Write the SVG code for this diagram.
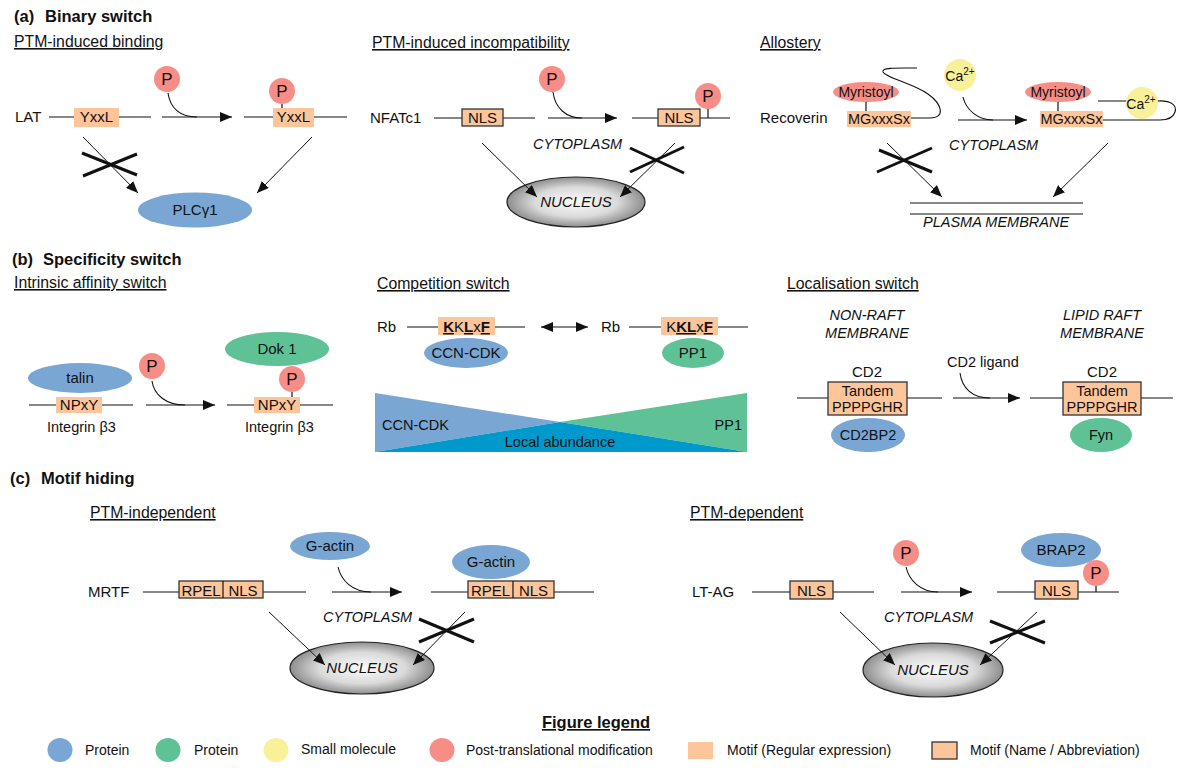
<svg xmlns="http://www.w3.org/2000/svg" width="1186" height="778" viewBox="0 0 1186 778">
<style>
text{font-family:"Liberation Sans",Arial,sans-serif;fill:#111;font-size:15px}
.c{text-anchor:middle}
.it{font-style:italic}
.sub{font-size:15.8px;text-decoration:underline}
.h{font-size:16.5px;font-weight:bold}
.sm{font-size:14.5px}
.lg{font-size:14px}
.pt{font-size:17px}
.b{font-weight:bold;text-decoration:underline}
.prot{fill:#79A6D3}
.grn{fill:#5FC196}
.ptm{fill:#F68E87}
.mol{fill:#F9F09A}
.motif{fill:#FEC59B}
.motifb{fill:#FEC59B;stroke:#333;stroke-width:1.3}
.ln{stroke:#111;stroke-width:1.2;fill:none}
.cv{stroke:#111;stroke-width:1.1;fill:none}
.arr{stroke:#111;stroke-width:1.2;fill:none;marker-end:url(#ah)}
.darr{stroke:#111;stroke-width:1;fill:none;marker-end:url(#ah)}
.cross{stroke:#111;stroke-width:3}
.nuc{fill:url(#ng);stroke:#222;stroke-width:1.2}
</style>
<defs>
<marker id="ah" markerUnits="userSpaceOnUse" markerWidth="12" markerHeight="10" viewBox="0 0 12 10" refX="12" refY="5" orient="auto-start-reverse"><path d="M0,0 L12,5 L0,10 z" fill="#111"/></marker>
<radialGradient id="ng" cx="50%" cy="50%" r="50%"><stop offset="0" stop-color="#fbfbfb"/><stop offset="0.6" stop-color="#dadada"/><stop offset="1" stop-color="#8e8e8e"/></radialGradient>
</defs>
<rect width="1186" height="778" fill="#fff"/>

<!-- headings -->
<g id="headings">
<text class="h" x="14" y="22">(a)<tspan x="45">Binary switch</tspan></text>
<text class="sub" x="14" y="47">PTM-induced binding</text>
<text class="sub" x="372" y="48">PTM-induced incompatibility</text>
<text class="sub" x="760" y="48">Allostery</text>
<text class="h" x="12" y="265">(b)<tspan x="43">Specificity switch</tspan></text>
<text class="sub" x="14" y="288">Intrinsic affinity switch</text>
<text class="sub" x="377" y="289">Competition switch</text>
<text class="sub" x="787" y="289">Localisation switch</text>
<text class="h" x="10" y="484">(c)<tspan x="41">Motif hiding</tspan></text>
<text class="sub" x="90" y="518">PTM-independent</text>
<text class="sub" x="690" y="518">PTM-dependent</text>
</g>

<!-- (a) PTM-induced binding -->
<g id="lat-unmodified">
<text x="15" y="122">LAT</text>
<line class="ln" x1="49" y1="117" x2="151" y2="117"/>
<rect class="motif" x="74" y="108" width="45" height="19"/>
<text class="c" x="96.5" y="122">YxxL</text>
</g>
<g id="p-a1"><circle class="ptm" cx="167" cy="79" r="13"/><text class="c pt" x="167" y="85">P</text></g>
<g id="lat-phospho">
<line class="ln" x1="244" y1="117" x2="347" y2="117"/>
<rect class="motif" x="273" y="108" width="41" height="19"/>
<text class="c" x="293.5" y="122">YxxL</text>
<line class="ln" x1="282" y1="104" x2="282" y2="108"/>
<circle class="ptm" cx="282" cy="91" r="13"/><text class="c pt" x="282" y="97">P</text>
</g>
<g id="plcg1"><ellipse class="prot" cx="195" cy="210" rx="57" ry="17.5"/><text class="c" x="195" y="215">PLCγ1</text></g>

<!-- (a) PTM-induced incompatibility -->
<g id="nfatc1-unmodified">
<text x="370" y="123">NFATc1</text>
<line class="ln" x1="434" y1="118" x2="535" y2="118"/>
<rect class="motifb" x="462" y="109" width="41" height="17"/>
<text class="c" x="482.5" y="123">NLS</text>
</g>
<g id="p-a2"><circle class="ptm" cx="552" cy="79" r="13"/><text class="c pt" x="552" y="85">P</text></g>
<g id="nfatc1-phospho">
<line class="ln" x1="632" y1="118" x2="730" y2="118"/>
<rect class="motifb" x="658" y="109" width="42" height="17"/>
<text class="c" x="679" y="123">NLS</text>
<line class="ln" x1="708" y1="109" x2="708" y2="118"/>
<circle class="ptm" cx="708" cy="96" r="13"/><text class="c pt" x="708" y="102">P</text>
</g>
<text class="it sm" x="533" y="149">CYTOPLASM</text>
<g id="nucleus-a"><ellipse class="nuc" cx="576" cy="202" rx="69" ry="25"/><text class="c it" x="576" y="207">NUCLEUS</text></g>

<!-- (a) Allostery -->
<g id="recoverin-off">
<text x="760" y="123">Recoverin</text>
<path class="cv" d="M911,118 L930,118 C946,118 942,104 928,94 C912,83 886,78 883,72 C881,67 900,68 917,68"/>
<ellipse class="ptm" cx="866" cy="92" rx="33" ry="10"/>
<text class="c lg" x="866" y="97">Myristoyl</text>
<line class="ln" x1="866" y1="102" x2="866" y2="111"/>
<rect class="motif" x="847" y="111" width="64" height="16"/>
<text class="c sm" x="879" y="124">MGxxxSx</text>
</g>
<g id="ca-free"><circle class="mol" cx="960" cy="75" r="16"/><text class="c lg" x="960" y="81">Ca<tspan font-size="10" dy="-6">2+</tspan></text></g>
<g id="recoverin-on">
<path class="cv" d="M1098,101 L1130,101 M1157,101 C1172,100 1177,106 1175,112 C1173,118 1168,120 1160,120 L1103,120"/>
<ellipse class="ptm" cx="1058" cy="92" rx="33" ry="10"/>
<text class="c lg" x="1058" y="97">Myristoyl</text>
<line class="ln" x1="1058" y1="102" x2="1058" y2="111"/>
<rect class="motif" x="1040" y="111" width="63" height="16"/>
<text class="c sm" x="1071.5" y="124">MGxxxSx</text>
<circle class="mol" cx="1142" cy="103" r="16"/><text class="c lg" x="1141" y="109">Ca<tspan font-size="10" dy="-6">2+</tspan></text>
</g>
<text class="it sm" x="949" y="150">CYTOPLASM</text>
<g id="plasma-membrane">
<line class="ln" x1="910" y1="203" x2="1083" y2="203"/>
<line class="ln" x1="910" y1="214" x2="1083" y2="214"/>
<text class="it sm" x="923" y="227">PLASMA MEMBRANE</text>
</g>

<!-- (b) Intrinsic affinity switch -->
<g id="integrin-talin">
<ellipse class="prot" cx="80" cy="378" rx="52" ry="15"/>
<text class="c" x="80" y="383">talin</text>
<line class="ln" x1="29" y1="405" x2="133" y2="405"/>
<rect class="motif" x="56" y="397" width="46" height="16"/>
<text class="c" x="79" y="410">NPxY</text>
<text class="sm" x="47" y="432">Integrin β3</text>
</g>
<g id="p-b"><circle class="ptm" cx="152" cy="366" r="13"/><text class="c pt" x="152" y="372">P</text></g>
<g id="integrin-dok1">
<ellipse class="grn" cx="277" cy="349" rx="52" ry="17"/>
<text class="c" x="277" y="354">Dok 1</text>
<line class="ln" x1="227" y1="405" x2="333" y2="405"/>
<rect class="motif" x="254" y="397" width="46" height="16"/>
<text class="c" x="277" y="410">NPxY</text>
<line class="ln" x1="292" y1="392" x2="292" y2="397"/>
<circle class="ptm" cx="292" cy="379" r="13"/><text class="c pt" x="292" y="385">P</text>
<text class="sm" x="245" y="432">Integrin β3</text>
</g>

<!-- (b) Competition switch -->
<g id="rb-ccn">
<text x="377" y="332">Rb</text>
<line class="ln" x1="407" y1="327" x2="525" y2="327"/>
<rect class="motif" x="438" y="317" width="57" height="18"/>
<text class="c" x="466.5" y="332"><tspan class="b">K</tspan>K<tspan class="b">L</tspan>x<tspan class="b">F</tspan></text>
<ellipse class="prot" cx="466" cy="353" rx="42" ry="15"/>
<text class="c" x="466" y="358">CCN-CDK</text>
</g>
<g id="rb-pp1">
<text x="601" y="332">Rb</text>
<line class="ln" x1="629" y1="327" x2="748" y2="327"/>
<rect class="motif" x="661" y="317" width="57" height="18"/>
<text class="c" x="689.5" y="332">K<tspan class="b">K</tspan><tspan class="b">L</tspan>x<tspan class="b">F</tspan></text>
<ellipse class="grn" cx="693" cy="353" rx="31" ry="15"/>
<text class="c" x="693" y="358">PP1</text>
</g>
<g id="abundance">
<polygon points="375,393 560,422 375,452" fill="#79A6D3"/>
<polygon points="747,393 560,422 747,452" fill="#5FC196"/>
<polygon points="375,452 560,422 747,452" fill="#0099CC"/>
<text class="sm" x="382" y="430">CCN-CDK</text>
<text class="sm" x="742" y="430" text-anchor="end">PP1</text>
<text class="c sm" x="560" y="447">Local abundance</text>
</g>

<!-- (b) Localisation switch -->
<g id="cd2-nonraft">
<text class="c it sm" x="867" y="320">NON-RAFT</text>
<text class="c it sm" x="867" y="338">MEMBRANE</text>
<text class="c" x="867" y="377">CD2</text>
<line class="ln" x1="797" y1="398" x2="942" y2="398"/>
<rect class="motifb" x="828" y="382" width="79" height="33"/>
<text class="c sm" x="867.5" y="396">Tandem</text>
<text class="c sm" x="867.5" y="412">PPPPGHR</text>
<ellipse class="prot" cx="868" cy="435" rx="37" ry="17"/>
<text class="c sm" x="868" y="440">CD2BP2</text>
</g>
<text class="sm" x="947" y="367">CD2 ligand</text>
<g id="cd2-raft">
<text class="c it sm" x="1102" y="320">LIPID RAFT</text>
<text class="c it sm" x="1102" y="338">MEMBRANE</text>
<text class="c" x="1102" y="377">CD2</text>
<line class="ln" x1="1030" y1="398" x2="1173" y2="398"/>
<rect class="motifb" x="1063" y="382" width="78" height="33"/>
<text class="c sm" x="1102" y="396">Tandem</text>
<text class="c sm" x="1102" y="412">PPPPGHR</text>
<ellipse class="grn" cx="1101" cy="435" rx="31" ry="17"/>
<text class="c sm" x="1101" y="440">Fyn</text>
</g>

<!-- (c) PTM-independent -->
<g id="mrtf-free">
<text x="88" y="597">MRTF</text>
<line class="ln" x1="143" y1="592" x2="306" y2="592"/>
<rect class="motifb" x="179" y="581" width="84" height="17"/>
<line class="ln" x1="223" y1="581" x2="223" y2="598"/>
<text class="c" x="201" y="596">RPEL</text>
<text class="c" x="243" y="596">NLS</text>
</g>
<g id="g-actin-free"><ellipse class="prot" cx="330" cy="546" rx="40" ry="14"/><text class="c" x="330" y="551">G-actin</text></g>
<g id="mrtf-bound">
<line class="ln" x1="431" y1="592" x2="594" y2="592"/>
<ellipse class="prot" cx="491" cy="562" rx="39" ry="17"/>
<text class="c" x="491" y="567">G-actin</text>
<rect class="motifb" x="468" y="581" width="86" height="17"/>
<line class="ln" x1="513" y1="581" x2="513" y2="598"/>
<text class="c" x="490.5" y="596">RPEL</text>
<text class="c" x="533.5" y="596">NLS</text>
</g>
<text class="it sm" x="323" y="622">CYTOPLASM</text>
<g id="nucleus-c1"><ellipse class="nuc" cx="362" cy="668" rx="72" ry="26"/><text class="c it" x="362" y="673">NUCLEUS</text></g>

<!-- (c) PTM-dependent -->
<g id="ltag-free">
<text x="692" y="597">LT-AG</text>
<line class="ln" x1="752" y1="592" x2="874" y2="592"/>
<rect class="motifb" x="790" y="581" width="43" height="18"/>
<text class="c" x="811.5" y="596">NLS</text>
</g>
<g id="p-c"><circle class="ptm" cx="906" cy="553" r="13"/><text class="c pt" x="906" y="559">P</text></g>
<g id="ltag-bound">
<line class="ln" x1="997" y1="592" x2="1119" y2="592"/>
<ellipse class="prot" cx="1061" cy="550" rx="40" ry="17"/>
<text class="c" x="1061" y="555">BRAP2</text>
<rect class="motifb" x="1035" y="581" width="43" height="18"/>
<text class="c" x="1056.5" y="596">NLS</text>
<line class="ln" x1="1096" y1="586" x2="1096" y2="592"/>
<circle class="ptm" cx="1096" cy="573" r="13"/><text class="c pt" x="1096" y="579">P</text>
</g>
<text class="it sm" x="884" y="622">CYTOPLASM</text>
<g id="nucleus-c2"><ellipse class="nuc" cx="933" cy="670" rx="70" ry="27"/><text class="c it" x="933" y="675">NUCLEUS</text></g>

<!-- legend -->
<g id="legend">
<text class="c h" x="596" y="728" text-decoration="underline">Figure legend</text>
<ellipse class="prot" cx="60" cy="750" rx="12.5" ry="12"/>
<text class="lg" x="85" y="755">Protein</text>
<ellipse class="grn" cx="168" cy="750" rx="12.5" ry="12"/>
<text class="lg" x="194" y="755">Protein</text>
<ellipse class="mol" cx="276" cy="750" rx="12.5" ry="12"/>
<text class="lg" x="301" y="754">Small molecule</text>
<ellipse class="ptm" cx="442" cy="750" rx="12.5" ry="12"/>
<text class="lg" x="466" y="755">Post-translational modification</text>
<rect class="motif" x="688" y="742" width="25" height="17"/>
<text class="lg" x="727" y="755">Motif (Regular expression)</text>
<rect class="motifb" x="932" y="742" width="25" height="17"/>
<text class="lg" x="970" y="755">Motif (Name / Abbreviation)</text>
</g>

<!-- connectors -->
<g id="connectors">
<!-- a left -->
<path class="cv" d="M168,93 C170,108 180,117 197,117"/>
<line class="arr" x1="162" y1="117" x2="232" y2="117"/>
<line class="darr" x1="83" y1="137" x2="138" y2="193"/>
<line class="cross" x1="82" y1="153" x2="137" y2="175"/>
<line class="cross" x1="83" y1="176" x2="137" y2="154"/>
<line class="darr" x1="312" y1="137" x2="257" y2="193"/>
<!-- a middle -->
<path class="cv" d="M553,92 C555,108 566,118 582,118"/>
<line class="arr" x1="548" y1="118" x2="617" y2="118"/>
<line class="darr" x1="482" y1="143" x2="537" y2="197"/>
<line class="darr" x1="675" y1="143" x2="620" y2="197"/>
<line class="cross" x1="630" y1="148" x2="684" y2="173"/>
<line class="cross" x1="630" y1="172" x2="684" y2="147"/>
<!-- a right -->
<path class="cv" d="M963,97 C966,110 978,120 993,120"/>
<line class="arr" x1="958" y1="120" x2="1027" y2="120"/>
<line class="darr" x1="887" y1="143" x2="942" y2="197"/>
<line class="cross" x1="877" y1="172" x2="932" y2="148"/>
<line class="cross" x1="879" y1="150" x2="932" y2="172"/>
<line class="darr" x1="1108" y1="143" x2="1053" y2="197"/>
<!-- b left -->
<path class="cv" d="M152,381 C154,395 166,405 185,405"/>
<line class="arr" x1="146" y1="405" x2="215" y2="405"/>
<!-- b middle -->
<line class="ln" x1="541" y1="327" x2="588" y2="327" marker-start="url(#ah)" marker-end="url(#ah)"/>
<!-- b right -->
<path class="cv" d="M960,373 C962,388 972,398 990,398"/>
<line class="arr" x1="953" y1="398" x2="1020" y2="398"/>
<!-- c left -->
<path class="cv" d="M338,567 C341,580 352,592 371,592"/>
<line class="arr" x1="332" y1="592" x2="402" y2="592"/>
<line class="darr" x1="269" y1="612" x2="325" y2="665"/>
<line class="darr" x1="465" y1="612" x2="413" y2="665"/>
<line class="cross" x1="419" y1="619" x2="474" y2="642"/>
<line class="cross" x1="419" y1="642" x2="474" y2="619"/>
<!-- c right -->
<path class="cv" d="M906,567 C909,580 920,592 938,592"/>
<line class="arr" x1="901" y1="592" x2="972" y2="592"/>
<line class="darr" x1="840" y1="612" x2="895" y2="665"/>
<line class="darr" x1="1037" y1="612" x2="980" y2="665"/>
<line class="cross" x1="990" y1="621" x2="1045" y2="643"/>
<line class="cross" x1="990" y1="643" x2="1045" y2="621"/>
</g>
</svg>
